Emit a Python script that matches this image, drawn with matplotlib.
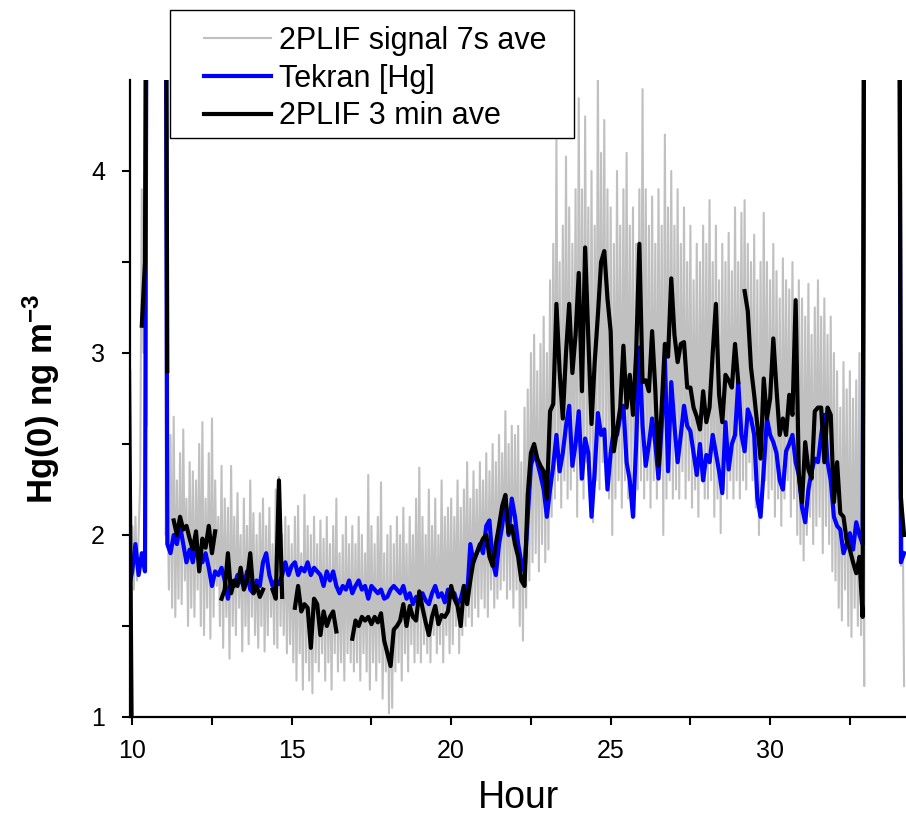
import numpy as np
import matplotlib
matplotlib.use("Agg")
import matplotlib.pyplot as plt
from matplotlib.patches import Rectangle

plt.rcParams['font.family'] = ['Liberation Sans', 'DejaVu Sans']
plt.rcParams['mathtext.fontset'] = 'custom'
plt.rcParams['mathtext.rm'] = 'Liberation Sans'
plt.rcParams['mathtext.bf'] = 'Liberation Sans:bold'
plt.rcParams['mathtext.default'] = 'bf'

nan = np.nan
OFF = 9.0  # readings far above the plotted range

# 2PLIF signal, 7 s averages (values every 0.05 h starting at 9.9 h)
plif_7s = [
    4.0, 0.8,
    2.05, 1.7, 2.1, 1.75, 2.0, 2.3, 3.9, 3.0, 3.75, 2.6, OFF, OFF, OFF, OFF, OFF, OFF, OFF, OFF, OFF, OFF,
    OFF, 2.0, 2.3, 1.7, 2.55, 1.6, 2.65, 1.55, 2.3, 1.65, 2.45, 1.62, 2.58, 1.75, 2.2, 1.5, 2.4, 1.6, 2.35, 1.55,
    2.3, 1.7, 2.5, 1.5, 2.62, 1.45, 2.2, 1.6, 2.45, 1.43, 2.64, 1.55, 2.3, 1.72, 2.1, 1.5, 2.38, 1.38, 2.2, 1.55,
    2.15, 1.32, 2.38, 1.5, 2.1, 1.45, 2.23, 1.6, 2.0, 1.36, 2.2, 1.5, 2.05, 1.4, 2.3, 1.55, 2.12, 1.45, 2.0, 1.38,
    2.12, 1.5, 2.2, 1.36, 2.05, 1.45, 2.15, 1.55, 1.95, 1.4, 2.25, 1.38, 2.32, 1.5, 2.0, 1.45, 2.1, 1.35, 2.05, 1.4,
    1.95, 1.3, 2.1, 1.2, 2.16, 1.35, 1.9, 1.15, 2.22, 1.3, 2.05, 1.2, 2.0, 1.13, 2.1, 1.3, 1.95, 1.25, 2.08, 1.35,
    1.98, 1.2, 2.1, 1.3, 1.95, 1.15, 2.05, 1.35, 2.2, 1.25, 1.9, 1.3, 2.0, 1.2, 2.1, 1.35, 1.95, 1.3, 2.05, 1.25,
    1.95, 1.3, 2.1, 1.2, 2.0, 1.35, 1.9, 1.25, 2.33, 1.15, 2.05, 1.3, 1.95, 1.2, 2.1, 1.3, 2.29, 1.1, 1.9, 1.25,
    2.0, 1.02, 2.05, 1.05, 1.95, 1.25, 2.1, 1.3, 2.0, 1.2, 2.15, 1.35, 1.95, 1.25, 2.1, 1.4, 2.0, 1.3, 2.2, 1.35,
    2.37, 1.3, 2.1, 1.4, 2.0, 1.35, 2.25, 1.3, 2.05, 1.45, 2.2, 1.35, 2.0, 1.4, 2.3, 1.3, 2.1, 1.45, 2.15, 1.35,
    2.2, 1.4, 2.1, 1.5, 2.3, 1.35, 2.15, 1.45, 2.25, 1.5, 2.4, 1.55, 2.2, 1.5, 2.35, 1.6, 2.25, 1.55, 2.4, 1.65,
    2.3, 1.6, 2.45, 1.55, 2.35, 1.7, 2.5, 1.6, 2.4, 1.65, 2.55, 1.7, 2.45, 1.75, 2.68, 1.65, 2.5, 1.7, 2.6, 1.6,
    2.55, 1.7, 2.6, 1.5, 2.4, 1.42, 2.7, 1.6, 2.8, 1.75, 3.0, 1.85, 3.1, 1.9, 2.9, 1.8, 3.05, 1.95, 3.2, 1.85,
    3.0, 1.92, 3.4, 2.1, 3.6, 2.2, 4.17, 2.3, 3.5, 2.15, 3.7, 2.3, 4.08, 2.2, 3.8, 2.25, 3.6, 2.35, 3.9, 2.1,
    4.4, 2.3, 3.9, 2.2, 4.3, 2.4, 3.8, 2.2, 4.0, 2.07, 3.7, 2.3, 4.6, 2.25, 4.1, 2.4, 4.28, 2.3, 3.9, 2.2,
    3.8, 2.0, 3.6, 2.2, 4.0, 2.3, 3.7, 2.15, 3.9, 2.3, 4.1, 2.2, 3.7, 2.3, 3.8, 2.1, 3.6, 2.25, 3.9, 2.3,
    4.45, 2.2, 3.9, 2.3, 3.7, 2.15, 3.86, 2.3, 3.6, 2.2, 3.9, 2.35, 3.7, 2.0, 4.2, 2.2, 3.8, 2.3, 4.0, 2.2,
    3.7, 2.25, 3.9, 2.2, 3.6, 2.35, 3.8, 2.2, 3.5, 2.3, 3.7, 2.15, 3.4, 2.25, 3.6, 2.1, 3.5, 2.3, 3.7, 2.2,
    3.6, 2.2, 3.84, 2.3, 3.5, 2.1, 3.7, 2.2, 3.4, 2.01, 3.6, 2.25, 3.5, 2.2, 3.66, 2.3, 3.45, 2.2, 3.8, 2.3,
    3.5, 2.2, 3.77, 2.3, 3.84, 2.25, 3.6, 2.4, 3.5, 2.3, 3.65, 2.15, 3.4, 2.0, 3.5, 2.2, 3.77, 2.3, 3.5, 2.2,
    3.4, 2.25, 3.6, 2.1, 3.45, 2.2, 3.3, 2.05, 3.52, 2.2, 3.4, 2.3, 3.35, 2.1, 3.5, 2.2, 3.3, 2.0, 3.4, 1.95,
    3.3, 1.86, 3.2, 2.0, 3.38, 2.1, 3.1, 1.95, 3.25, 2.05, 3.4, 2.1, 3.2, 1.9, 3.3, 2.05, 3.1, 1.95, 3.2, 1.8,
    3.0, 1.75, 2.9, 1.6, 2.7, 1.53, 2.95, 1.7, 2.8, 1.5, 2.9, 1.44, 2.75, 1.6, 2.85, 1.5, 3.0, 1.45, 2.8, 1.17,
    OFF, OFF, OFF, OFF, OFF, OFF, OFF, OFF, OFF, OFF, OFF, OFF, OFF, OFF, OFF, OFF, OFF, OFF, OFF, OFF,
    OFF, 2.58, 1.83, 2.2, 1.17,
]

# Tekran [Hg] (values every 0.1 h starting at 9.9 h)
tekran = [
    1.72,
    1.8, 1.95, 1.78, 1.9, 1.8, OFF, OFF, OFF, OFF, OFF,
    OFF, 1.95, 1.9, 2.0, 1.95, 2.05, 1.95, 1.85, 1.92, 1.85,
    1.95, 1.9, 1.85, 1.9, 1.82, 1.72, 1.8, 1.78, 1.82, 1.75,
    1.65, 1.75, 1.72, 1.78, 1.75, 1.72, 1.8, 1.7, 1.68, 1.75,
    1.72, 1.85, 1.9, 1.78, 1.72, 1.75, 1.73, 1.78, 1.85, 1.78,
    1.83, 1.85, 1.78, 1.82, 1.8, 1.85, 1.78, 1.82, 1.8, 1.78,
    1.72, 1.8, 1.75, 1.8, 1.72, 1.68, 1.72, 1.7, 1.75, 1.68,
    1.72, 1.75, 1.7, 1.72, 1.65, 1.72, 1.7, 1.68, 1.7, 1.65,
    1.66, 1.7, 1.72, 1.7, 1.68, 1.72, 1.65, 1.68, 1.62, 1.66,
    1.62, 1.68, 1.64, 1.62, 1.68, 1.72, 1.66, 1.68, 1.63, 1.7,
    1.66, 1.68, 1.62, 1.65, 1.72, 1.66, 1.95, 1.85, 1.9, 1.95,
    1.9, 2.05, 2.08, 1.85, 1.78, 1.95, 2.05, 2.2, 2.0, 2.2,
    2.1, 1.95, 1.85, 1.8, 2.1, 2.38, 2.45, 2.4, 2.33, 2.25,
    2.1, 2.25, 2.38, 2.55, 2.35, 2.45, 2.6, 2.71, 2.38, 2.5,
    2.68, 2.31, 2.53, 2.45, 2.1, 2.35, 2.67, 2.55, 2.58, 2.25,
    2.45, 2.58, 2.55, 2.65, 2.71, 2.4, 2.3, 2.1, 2.5, 3.03,
    2.6, 2.38, 2.5, 2.64, 2.5, 2.31, 2.6, 2.97, 2.35, 2.84,
    2.6, 2.4, 2.55, 2.71, 2.6, 2.57, 2.45, 2.33, 2.5, 2.3,
    2.44, 2.4, 2.55, 2.45, 2.35, 2.23, 2.62, 2.36, 2.5, 2.55,
    2.84, 2.55, 2.46, 2.69, 2.64, 2.55, 2.2, 2.1, 2.36, 2.64,
    2.55, 2.51, 2.45, 2.3, 2.25, 2.46, 2.5, 2.55, 2.4, 2.33,
    2.15, 2.07, 2.25, 2.35, 2.42, 2.4, 2.55, 2.66, 2.4, 2.3,
    2.1, 2.05, 2.03, 1.9, 1.95, 2.01, 1.92, 2.07, 2.0, 1.95,
    OFF, OFF, OFF, OFF, OFF, OFF, OFF, OFF, OFF, OFF,
    OFF, 1.85, 1.9,
]

# 2PLIF 3 min averages (values every 0.1 h starting at 9.9 h, nan = no data)
plif_3min = [
    2.9,
    0.5, nan, nan, 3.15, 3.5, OFF, OFF, OFF, OFF, OFF,
    OFF, 2.9, nan, 2.08, 2.0, 2.1, 2.03, 2.05, 1.98, 1.92,
    2.02, 1.8, 1.98, 1.93, 2.05, 1.9, 2.02, nan, 1.65, 1.7,
    1.9, 1.68, 1.75, 1.72, 1.82, 1.7, 1.75, 1.9, 1.68, 1.72,
    1.66, 1.7, nan, nan, 1.7, 1.65, 2.3, 1.66, nan, nan,
    nan, 1.6, 1.72, 1.58, 1.62, 1.6, 1.38, 1.65, 1.62, 1.45,
    1.58, 1.5, 1.55, 1.58, 1.47, nan, nan, nan, nan, 1.43,
    1.53, 1.5, 1.55, 1.53, 1.55, 1.51, 1.55, 1.52, 1.57, 1.42,
    1.35, 1.28, 1.48, 1.5, 1.53, 1.62, 1.5, 1.61, 1.55, 1.53,
    1.69, 1.6, 1.52, 1.45, 1.55, 1.61, 1.51, 1.56, 1.55, 1.58,
    1.72, 1.65, 1.61, 1.5, 1.72, 1.62, 1.75, 1.86, 1.9, 1.94,
    1.98, 2.0, 1.88, 1.83, 1.95, 2.05, 2.16, 2.22, 2.01, 2.05,
    1.95, 1.88, 1.75, 1.72, 2.22, 2.45, 2.5, 2.42, 2.38, 2.35,
    2.2, 2.68, 2.72, 3.27, 2.9, 2.64, 3.0, 3.27, 2.89, 3.1,
    3.44, 2.79, 3.58, 3.08, 2.61, 2.95, 3.21, 3.5, 3.56, 3.3,
    3.12, 2.46, 2.58, 2.7, 3.04, 2.7, 2.88, 2.66, 3.0, 3.6,
    2.84, 2.85, 2.79, 3.12, 2.8, 2.38, 2.7, 3.05, 2.98, 3.41,
    3.1, 2.95, 3.05, 3.06, 2.81, 2.81, 2.7, 2.65, 2.58, 2.79,
    2.62, 2.7, 3.0, 3.27, 2.77, 2.62, 2.88, 2.85, 2.81, 3.05,
    2.84, nan, 3.34, 3.23, 2.92, 2.77, 2.6, 2.42, 2.86, 2.64,
    2.75, 3.08, 2.8, 2.55, 2.64, 2.55, 2.77, 2.66, 3.29, 2.33,
    2.18, 2.51, 2.36, 2.31, 2.68, 2.7, 2.7, 2.4, 2.7, 2.66,
    2.18, 2.4, 2.12, 2.1, 1.97, 1.92, 1.85, 1.79, 1.88, 1.55,
    OFF, OFF, OFF, OFF, OFF, OFF, OFF, OFF, OFF, OFF,
    OFF, 2.2, 2.0,
]

labels = ['2PLIF signal 7s ave', 'Tekran [Hg]', '2PLIF 3 min ave']

# time axes for the series
t0 = 9.9
hours_7s = t0 + 0.05 * np.arange(len(plif_7s))
hours_5min = t0 + 0.1 * np.arange(len(tekran))
hours_3min = t0 + 0.1 * np.arange(len(plif_3min))

fig = plt.figure(figsize=(9.06, 8.15), dpi=100)
ax = fig.add_axes([130 / 906, 98 / 815, 776 / 906, 637 / 815])

l1, = ax.plot(hours_7s, plif_7s, color='#c0c0c0', lw=1.5)
l2, = ax.plot(hours_5min, tekran, color='#0000ff', lw=3.0)
l3, = ax.plot(hours_3min, plif_3min, color='black', lw=3.0)

ax.set_xlim(9.93, 34.26)
ax.set_ylim(1, 4.5)

ax.spines['top'].set_visible(False)
ax.spines['right'].set_visible(False)
for s in ['left', 'bottom']:
    ax.spines[s].set_linewidth(1.6)

ax.set_xticks([10, 15, 20, 25, 30])
ax.set_xticks(np.arange(12.5, 34, 5), minor=True)
ax.set_yticks([1, 2, 3, 4])
ax.set_yticks([1.5, 2.5, 3.5], minor=True)
ax.tick_params(which='both', direction='out', length=6, width=1.5)
ax.tick_params(axis='x', labelsize=18, pad=10)
ax.tick_params(axis='y', labelsize=18, pad=12)

ax.set_xlabel('Hour', fontsize=27)
ax.xaxis.set_label_coords(0.5, -0.099)
ax.set_ylabel('Hg(0) ng m$^{-3}$', fontsize=25, fontweight='bold')
ax.yaxis.set_label_coords(-0.087, 0.5)

# legend box sits above the axes, drawn in figure pixels
fig.patches.append(Rectangle((170 / 906, 1 - 138 / 815), 404 / 906, 128 / 815,
                             transform=fig.transFigure, fill=False,
                             edgecolor='black', lw=1.0))
fig.legend([l1, l2, l3], labels, loc='upper left',
           bbox_to_anchor=(204 / 906, 1 - 26 / 815), frameon=False,
           fontsize=22, handlelength=2.2, handletextpad=0.25,
           labelspacing=0.25, borderpad=0, borderaxespad=0)

fig.savefig('out.png', dpi=100)
